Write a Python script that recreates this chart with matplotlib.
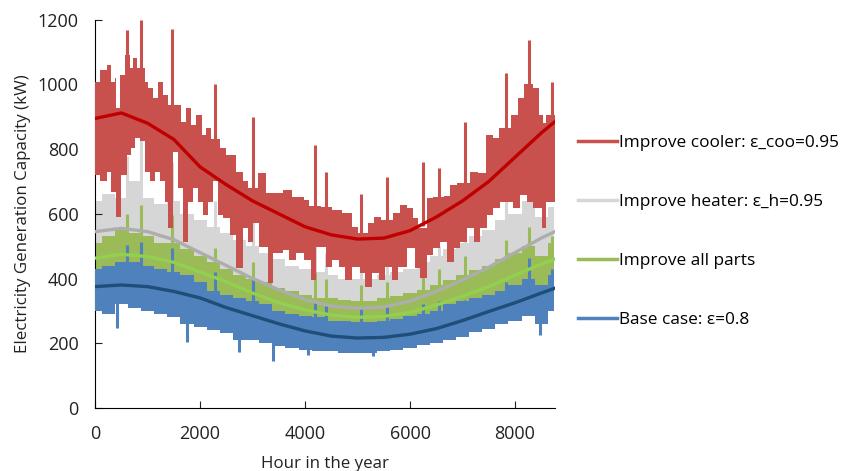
import matplotlib.pyplot as plt
import numpy as np

plt.rcParams['font.family'] = ['Open Sans', 'DejaVu Sans']

# Borde superior de la banda roja (sin los picos)
red_up_h = [0, 95, 220, 310, 370, 400, 470, 570, 670, 730, 800, 950, 1010, 1100,
            1200, 1290, 1390, 1550, 1640, 1740, 1830, 1930, 2030, 2120, 2200,
            2380, 2500, 2690, 2820, 2920, 3100, 3260, 3380, 3570, 3760, 3980,
            4080, 4300, 4520, 4710, 4900, 5000, 5190, 5320, 5440, 5670, 5810,
            5940, 6060, 6160, 6320, 6440, 6640, 6760, 6890, 7140, 7300, 7450,
            7580, 7700, 7920, 8050, 8180, 8340, 8460, 8530, 8600, 8760]
red_up_v = [1009, 1045, 1061, 1009, 1020, 928, 1030, 1092, 1050, 1082, 1050, 1009,
            990, 958, 1009, 968, 937, 937, 885, 928, 875, 906, 844, 865, 830,
            804, 783, 730, 700, 680, 727, 665, 665, 674, 653, 643,
            623, 622, 612, 602, 560, 540, 571, 591, 581, 602, 628,
            619, 588, 557, 650, 652, 655, 690, 695, 730, 725, 844,
            835, 866, 906, 958, 1000, 990, 906, 880, 906, 960]
# Borde inferior de la banda roja
red_lo_h = [0, 95, 220, 310, 390, 500, 600, 690, 760, 850, 950, 1050, 1140, 1240,
            1330, 1390, 1490, 1580, 1680, 1770, 1870, 1960, 2060, 2150, 2250,
            2340, 2440, 2570, 2690, 2820, 2920, 3000, 3130, 3290, 3380, 3570,
            3700, 3830, 3980, 4110, 4200, 4400, 4520, 4650, 4770, 4900, 5050,
            5140, 5270, 5400, 5520, 5650, 5780, 5940, 6090, 6190, 6320, 6440,
            6570, 6700, 6830, 6950, 7080, 7210, 7340, 7460, 7590, 7720, 7840,
            7970, 8100, 8230, 8350, 8510, 8600, 8760]
red_lo_v = [720, 700, 730, 668, 591, 720, 783, 804, 835, 825, 730, 700, 730, 700,
            637, 557, 792, 680, 513, 637, 680, 637, 597, 637, 700,
            597, 588, 535, 433, 557, 513, 571, 498, 387, 479, 489,
            458, 479, 458, 396, 498, 437, 458, 437, 396, 437, 416,
            375, 416, 396, 437, 396, 437, 495, 433, 402, 473, 495,
            513, 452, 495, 513, 557, 513, 557, 597, 619, 637, 637,
            619, 659, 637, 619, 557, 637, 619]

# Bandas de las otras series (cada 250 horas)
grid_hours = np.arange(0, 8751, 250)
gray_upper = [640, 660, 650, 700, 650, 630, 640, 600, 580, 560, 540, 520,
              500, 480, 460, 440, 430, 420, 410, 400, 400, 400, 410, 420,
              430, 450, 470, 490, 510, 530, 550, 580, 600, 640, 590, 620]
gray_lower = [475, 485, 490, 485, 475, 460, 450, 430, 410, 390, 370, 350,
              330, 315, 295, 280, 265, 255, 245, 240, 240, 240, 245, 250,
              260, 275, 290, 305, 325, 345, 365, 390, 410, 435, 420, 470]
green_upper = [510, 530, 550, 540, 530, 510, 510, 490, 470, 450, 430, 410,
               400, 390, 370, 360, 350, 340, 340, 335, 330, 330, 340, 345,
               355, 365, 380, 395, 410, 425, 440, 460, 480, 500, 470, 510]
green_lower = [390, 395, 400, 395, 390, 380, 370, 355, 340, 320, 305, 290,
               275, 260, 250, 240, 230, 225, 220, 215, 215, 215, 220, 225,
               235, 245, 255, 270, 285, 300, 315, 330, 345, 365, 350, 380]
blue_upper = [430, 440, 450, 450, 440, 430, 420, 410, 390, 360, 350, 340,
              330, 320, 300, 290, 285, 280, 270, 270, 265, 265, 270, 275,
              285, 290, 300, 320, 330, 340, 350, 360, 380, 400, 380, 410]
blue_lower = [300, 290, 320, 310, 300, 290, 280, 260, 250, 240, 230, 210,
              210, 200, 190, 185, 180, 175, 175, 170, 170, 170, 175, 180,
              185, 195, 200, 210, 220, 235, 245, 260, 270, 285, 260, 300]

# Picos (mismas horas en todas las series)
peak_hours = [600, 880, 1470, 2280, 3015, 4190, 4400, 5070, 5560, 6240, 6560, 7050, 7820, 8260, 8700]
red_peaks = [1169, 1200, 1170, 1000, 900, 813, 730, 660, 715, 760, 742, 885, 1036, 1138, 1008]
gray_peaks = [780, 830, 760, 640, 580, 520, 480, 450, 470, 500, 500, 560, 650, 700, 620]
green_peaks = [600, 628, 595, 495, 450, 420, 400, 380, 390, 420, 430, 470, 520, 560, 530]
blue_peaks = [505, 513, 495, 420, 400, 330, 320, 310, 318, 320, 330, 335, 390, 464, 430]

dip_hours = [420, 1750, 2750, 3390, 4050, 5300, 8470]
blue_dips = [247, 204, 173, 145, 165, 160, 225]

# Líneas de tendencia
trend_hours = [0, 500, 1000, 1500, 2000, 2500, 3000, 3500, 4000, 4500, 5000,
               5500, 6000, 6500, 7000, 7500, 8000, 8500, 8760]
red_trend = [895, 912, 880, 830, 745, 690, 640, 600, 560, 535, 522, 525, 548,
             590, 640, 700, 775, 850, 885]
gray_trend = [545, 555, 545, 520, 480, 440, 400, 365, 335, 315, 308, 312, 330,
              360, 395, 435, 480, 525, 545]
green_trend = [463, 475, 468, 450, 420, 390, 355, 325, 303, 287, 280, 283, 295,
               318, 345, 375, 410, 445, 460]
blue_trend = [375, 380, 375, 360, 340, 310, 285, 260, 238, 222, 216, 218, 228,
              245, 270, 298, 325, 355, 370]

labels = ['Improve cooler: ε_coo=0.95', 'Improve heater: ε_h=0.95',
          'Improve all parts', 'Base case: ε=0.8']
band_colors = ['#C8504D', '#D6D6D6', '#9BBB59', '#4F81BD']


def steps(h, v):
    # escalones: cada valor se mantiene hasta la siguiente lectura
    return list(np.repeat(h, 2)[1:]), list(np.repeat(v, 2)[:-1])


fig = plt.figure(figsize=(8.42, 4.71), dpi=100)
ax = fig.add_axes([0.113, 0.134, 0.546, 0.824])

# Orden de dibujo: gris, verde, azul (rojo al final)
others = [
    (gray_lower, gray_upper, gray_peaks, None, band_colors[1], 1),
    (green_lower, green_upper, green_peaks, None, band_colors[2], 2),
    (blue_lower, blue_upper, blue_peaks, blue_dips, band_colors[3], 3),
]
for lo, up, peaks, dips, col, z in others:
    ax.fill_between(grid_hours, lo, up, color=col, lw=0, step='mid', zorder=z)
    up_at = np.interp(peak_hours, grid_hours, up)
    ax.vlines(peak_hours, up_at - 40, peaks, color=col, lw=2.2, zorder=z)
    if dips is not None:
        lo_at = np.interp(dip_hours, grid_hours, lo)
        ax.vlines(dip_hours, dips, lo_at + 40, color=col, lw=2.2, zorder=z)

# Banda roja como polígono escalonado: borde superior y luego el inferior al revés
ux, uy = steps(red_up_h, red_up_v)
lx, ly = steps(red_lo_h, red_lo_v)
ax.fill(ux + lx[::-1], uy + ly[::-1], color=band_colors[0], lw=0, zorder=4)
red_at = np.interp(peak_hours, red_up_h, red_up_v)
ax.vlines(peak_hours, red_at - 40, red_peaks, color=band_colors[0], lw=2.2, zorder=4)

for trend, tcol in [(gray_trend, '#ADADAD'), (green_trend, '#92D050'),
                    (blue_trend, '#1F4E79'), (red_trend, '#C00000')]:
    ax.plot(trend_hours, trend, color=tcol, lw=2.4, zorder=10)

handles = [plt.Line2D([], [], color=c, lw=2.5) for c in band_colors]

ax.set_xlim(0, 8760)
ax.set_ylim(0, 1200)
ax.set_xticks([0, 2000, 4000, 6000, 8000])
ax.set_yticks(np.arange(0, 1201, 200))
ax.tick_params(direction='in', length=5, labelsize=13, colors='#222222')
ax.tick_params(axis='y', pad=12)
ax.tick_params(axis='x', pad=12)
for s in ['top', 'right']:
    ax.spines[s].set_visible(False)
ax.set_xlabel('Hour in the year', fontsize=12.2, labelpad=10, color='#222222')
ax.set_ylabel('Electricity Generation Capacity (kW)', fontsize=12.2, labelpad=5,
              color='#222222')

fig.legend(handles, labels, loc='center left', bbox_to_anchor=(0.686, 0.508),
           frameon=False, fontsize=12.4, handlelength=2.27, handletextpad=0.15,
           labelspacing=2.5, borderpad=0, borderaxespad=0)

fig.savefig('out.png', dpi=100)
